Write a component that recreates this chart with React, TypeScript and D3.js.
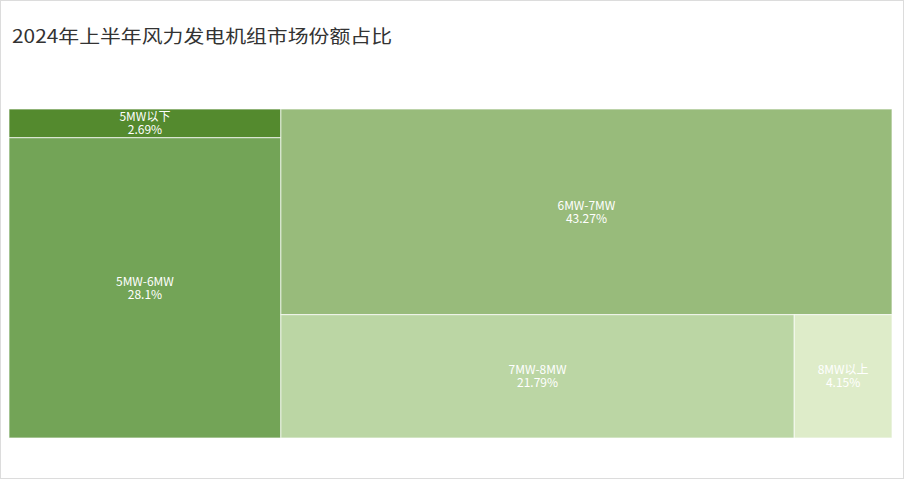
import React from "react";
import * as d3 from "d3";

const categories = ["5MW以下", "5MW-6MW", "6MW-7MW", "7MW-8MW", "8MW以上"];
const shares = [2.69, 28.1, 43.27, 21.79, 4.15];
const colors = ["#548a2e", "#73a457", "#98bb7b", "#bbd6a4", "#deecc9"];
const title = "2024年上半年风力发电机组市场份额占比";

const W = 905;
const H = 480;
const area = { x0: 9, y0: 109, x1: 892, y1: 438 };

// Binary split by value with alternating orientation
function altBinary(parent: any, x0: number, y0: number, x1: number, y1: number) {
  const nodes = parent.children;
  const n = nodes.length;
  const sums = [0];
  for (let i = 0; i < n; i++) sums.push(sums[i] + nodes[i].value);
  function part(i: number, j: number, value: number, a0: number, b0: number, a1: number, b1: number, horiz: boolean) {
    if (i >= j - 1) {
      const nd = nodes[i];
      nd.x0 = a0; nd.y0 = b0; nd.x1 = a1; nd.y1 = b1;
      return;
    }
    const target = sums[i] + value / 2;
    let k = i + 1;
    let best = Infinity;
    for (let m = i + 1; m < j; m++) {
      const d = Math.abs(sums[m] - target);
      if (d < best) { best = d; k = m; }
    }
    const vl = sums[k] - sums[i];
    const vr = value - vl;
    if (horiz) {
      const xk = a0 + (a1 - a0) * vl / value;
      part(i, k, vl, a0, b0, xk, b1, !horiz);
      part(k, j, vr, xk, b0, a1, b1, !horiz);
    } else {
      const yk = b0 + (b1 - b0) * vl / value;
      part(i, k, vl, a0, b0, a1, yk, !horiz);
      part(k, j, vr, a0, yk, a1, b1, !horiz);
    }
  }
  part(0, n, parent.value, x0, y0, x1, y1, x1 - x0 > y1 - y0);
}

export default function App() {
  const data = {
    name: "root",
    children: categories.map((c, i) => ({ name: c, value: shares[i], color: colors[i] })),
  };
  const root = d3.hierarchy<any>(data).sum((d: any) => d.value || 0);
  d3.treemap<any>()
    .tile(altBinary as any)
    .size([area.x1 - area.x0, area.y1 - area.y0])(root);
  const leaves = root.leaves() as any[];

  return (
    <svg
      width={W}
      height={H}
      style={{ position: "absolute", left: 0, top: 0, background: "#fff" }}
      fontFamily="'Noto Sans CJK SC', 'Noto Sans', sans-serif"
    >
      <rect x={0.5} y={0.5} width={W - 2} height={H - 2} fill="#fff" stroke="#dcdcdc" strokeWidth={1} />
      <text x={12} y={43} fontSize={18} fill="#333" textLength={380} lengthAdjust="spacingAndGlyphs">
        {title}
      </text>
      <g transform={`translate(${area.x0},${area.y0})`}>
        {leaves.map((d, i) => {
          const cx = (d.x0 + d.x1) / 2;
          const cy = (d.y0 + d.y1) / 2;
          return (
            <g key={i}>
              <rect
                x={d.x0}
                y={d.y0}
                width={d.x1 - d.x0}
                height={d.y1 - d.y0}
                fill={d.data.color}
                stroke="#ffffff"
                strokeOpacity={0.7}
                strokeWidth={1}
              />
              <text textAnchor="middle" fontSize={12} fill="#fff">
                <tspan x={cx} y={cy - 2}>{d.data.name}</tspan>
                <tspan x={cx} y={cy + 11}>{d.data.value + "%"}</tspan>
              </text>
            </g>
          );
        })}
      </g>
    </svg>
  );
}
